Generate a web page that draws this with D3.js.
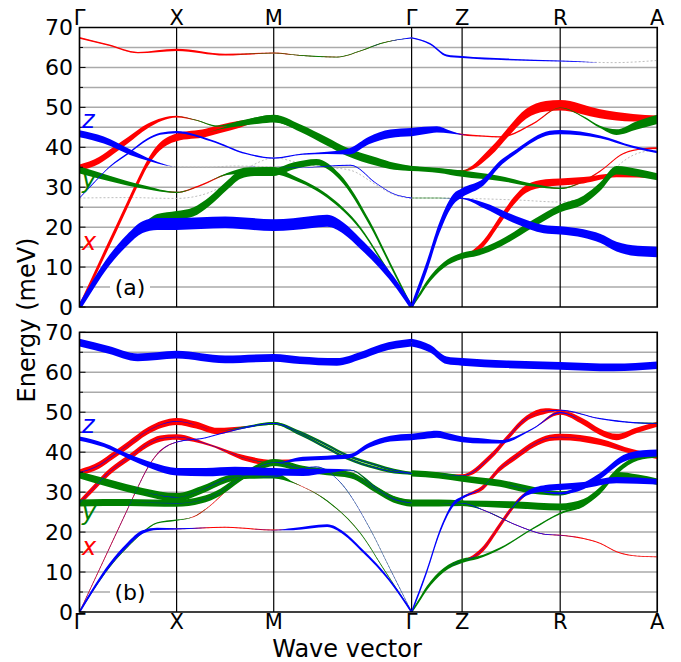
<!DOCTYPE html>
<html>
<head>
<meta charset="utf-8">
<script src="https://cdn.jsdelivr.net/npm/d3@7"></script>
<style>
  body { margin: 0; background: #fff; }
  text { font-family: "DejaVu Sans", sans-serif; }
</style>
</head>
<body>
<div id="chart"></div>
<script>
// high symmetry points along the path
var kTicks = [0, 1, 2, 3.42, 3.94, 4.95, 5.95];
var kLabels = ["Γ", "X", "M", "Γ", "Z", "R", "A"];
var eTicks = [0, 10, 20, 30, 40, 50, 60, 70];
var eGrid = [5, 10, 15, 20, 25, 30, 35, 40, 45, 50, 55, 60, 65];

// rows: k, energy (meV), weight x / y / z in panel (a), weight x / y / z in panel (b)
var band1 = [
  [0, 0, 0,0,.6, 0,.05,.25], [0.15, 6.0, 0,0,.7, 0,.08,.28], [0.31, 11.75, 0,0,.75, 0,.08,.3],
  [0.49, 16.75, 0,0,.8, 0,.08,.3], [0.65, 20.0, 0,0,.85, 0,.05,.25], [0.8, 20.8, 0,0,.85, 0,0,.15],
  [1, 20.8, 0,0,.85, .04,0,.1], [1.5, 21.2, 0,0,.85, .07,0,0], [2, 20.5, 0,0,.85, .07,0,.02],
  [2.2, 20.75, 0,0,.85, 0,0,.15], [2.55, 21.6, 0,0,.85, 0,0,.2], [2.72, 19.7, 0,0,.8, 0,0,.22],
  [2.89, 15.9, 0,0,.75, 0,0,.22], [3.06, 11.75, 0,0,.7, 0,.03,.22], [3.23, 6.75, 0,0,.6, 0,.05,.22],
  [3.42, 0, 0,0,.5, 0,.05,.25]
];
var band2 = [
  [0, 0, 0,.1,0, 0,.1,0], [0.31, 11.3, 0,.15,0, 0,.12,0], [0.49, 16.2, 0,.25,0, 0,.12,0],
  [0.65, 19.9, 0,.4,0, 0,.12,0], [0.8, 22.3, 0,.55,0, 0,.1,0], [1, 23.0, 0,.6,0, 0,.08,0],
  [1.17, 23.8, 0,.65,0, .05,0,0], [1.34, 26.5, 0,.65,0, .06,0,0], [1.52, 30.5, 0,.65,0, .06,0,0],
  [1.66, 33.2, 0,.6,0, .05,0,0], [1.8, 33.8, 0,.55,0, .03,.03,0], [2, 33.8, 0,.55,0, 0,.08,.04],
  [2.2, 35.3, 0,.5,0, 0,.04,.05], [2.44, 36.3, 0,.45,0, 0,.03,.05], [2.68, 32.6, 0,.4,0, 0,.02,.04],
  [2.99, 20.9, 0,.35,0, 0,.02,.04], [3.2, 10.7, 0,.3,0, 0,.02,.04], [3.42, 0, 0,.25,0, 0,.02,.04]
];
var band3 = [
  [0, 0, .45,0,0, .12,0,.04], [0.25, 13.0, .5,0,0, .12,0,.04], [0.5, 26.0, .5,0,0, .12,0,.04],
  [0.6, 31.2, .5,0,0, .12,0,.04], [0.7, 36.0, .5,0,0, .12,0,.04], [0.8, 39.5, .55,0,0, .1,0,.04],
  [0.9, 41.5, .55,0,0, .08,0,.05], [1, 42.5, .55,0,0, .05,0,.06], [1.3, 43.6, .6,0,0, 0,0,.06],
  [1.45, 44.6, .6,.05,0, 0,0,.06], [1.65, 45.8, .5,.3,0, 0,.05,.06], [1.85, 46.8, .2,.5,0, 0,.15,.05],
  [2, 47.2, .05,.55,0, 0,.2,.05], [2.27, 45.0, 0,.45,0, 0,.2,.04], [2.55, 41.75, 0,.4,0, 0,.2,.04],
  [2.75, 39.25, 0,.4,0, 0,.2,.04], [3.06, 36.75, 0,.4,0, 0,.2,.04], [3.24, 35.5, 0,.35,0, 0,.2,.04],
  [3.42, 34.7, 0,.35,0, 0,.2,.04]
];
var band4 = [
  [0, 34.9, .45,0,0, .45,0,.04], [0.2, 36.7, .5,0,0, .5,0,.04], [0.35, 39.2, .5,0,0, .5,0,.04],
  [0.5, 41.8, .45,0,0, .5,0,.04], [0.7, 45.3, .35,0,0, .5,0,.04], [0.85, 47.0, .2,0,0, .5,0,.04],
  [1, 47.7, .12,0,0, .5,0,.04], [1.2, 46.8, .05,.05,0, .5,0,0], [1.42, 45.3, 0,.1,0, .45,0,0],
  [1.7, 46.3, 0,.35,0, .1,.1,.04], [2, 47.2, 0,.5,0, 0,.2,.05], [2.27, 44.5, 0,.35,0, 0,.2,.04],
  [2.55, 41.0, 0,.35,0, 0,.2,.04], [2.75, 38.5, 0,.35,0, 0,.2,.04], [3.06, 36.0, 0,.35,0, 0,.2,.04],
  [3.24, 35.0, 0,.35,0, 0,.2,.04], [3.42, 34.7, 0,.35,0, 0,.2,.04]
];
var band5 = [
  [0, 43.4, 0,0,.5, 0,0,.3], [0.25, 41.8, 0,0,.5, 0,0,.3], [0.52, 38.8, 0,0,.4, 0,0,.35],
  [0.75, 36.6, 0,0,.15, 0,0,.45], [1, 35.1, 0,0,0, 0,0,.55], [1.3, 35.0, 0,0,0, 0,0,.6],
  [1.6, 35.3, 0,0,0, 0,0,.6], [2, 35.1, 0,0,0, 0,0,.55], [2.3, 34.9, 0,0,.03, 0,0,.5],
  [2.55, 35.3, 0,0,.05, 0,0,.3], [2.79, 35.5, 0,0,.06, 0,.05,.05], [3.06, 30.9, 0,0,.06, 0,.3,.04],
  [3.23, 28.4, 0,0,.06, 0,.4,.04], [3.42, 27.3, 0,0,.06, 0,.45,.04]
];
var band6 = [
  [0, 27.3, 0,0,.06, .4,0,.04], [0.14, 30.9, 0,0,.08, .45,0,.04], [0.31, 35.1, 0,0,.1, .45,0,.04],
  [0.52, 38.8, 0,0,.12, .45,0,.04], [0.7, 42.0, 0,0,.15, .45,0,.04], [0.83, 43.4, 0,0,.15, .45,0,.04],
  [1, 43.8, 0,0,.15, .4,0,.04], [1.35, 41.75, 0,0,.12, .15,0,.04], [1.72, 38.4, 0,0,.1, .4,0,.02],
  [2, 37.3, 0,0,.08, .45,.1,0], [2.3, 38.3, 0,0,.08, 0,0,.3], [2.55, 38.6, 0,0,.15, 0,0,.3],
  [2.78, 39.0, 0,0,.45, 0,0,.3], [2.98, 41.7, 0,0,.55, 0,0,.35], [3.2, 43.4, 0,0,.6, 0,0,.4],
  [3.42, 43.8, 0,0,.6, 0,0,.45]
];
var band7 = [
  [0, 27.3, 0,0,0, 0,.5,0], [0.5, 27.4, 0,0,0, 0,.5,0], [1, 27.2, 0,0,0, 0,.5,.03],
  [1.25, 28.0, 0,0,0, 0,.5,.03], [1.45, 30.0, 0,0,0, 0,.5,.03], [1.65, 33.5, 0,0,0, 0,.5,.03],
  [1.85, 36.3, 0,0,0, 0,.5,.03], [2, 37.4, 0,0,0, 0,.5,.03], [2.3, 35.8, 0,0,0, 0,.45,.03],
  [2.55, 35.0, 0,0,0, 0,.45,.03], [2.79, 34.25, 0,0,0, 0,.45,.03], [3.06, 30.5, 0,0,0, 0,.45,.03],
  [3.23, 28.2, 0,0,0, 0,.45,.03], [3.42, 27.2, 0,0,0, 0,.5,0]
];
var band8 = [
  [0, 34.3, 0,.5,0, 0,.5,0], [0.31, 32.2, 0,.4,0, 0,.55,0], [0.65, 30.1, 0,.25,0, 0,.55,0],
  [1, 28.7, .08,.08,0, 0,.6,.04], [1.25, 30.5, .1,0,0, 0,.55,.03], [1.52, 33.3, .06,.15,0, 0,.5,.03],
  [1.75, 34.2, 0,.45,0, 0,.5,.03], [2, 34.2, 0,.5,0, 0,.45,.03], [2.2, 32.4, 0,.3,0, .03,.08,0],
  [2.55, 27.8, 0,.25,0, .03,.08,0], [2.89, 19.8, 0,.22,0, .03,.08,0], [3.15, 10.1, 0,.2,0, .03,.08,0],
  [3.42, 0, 0,.15,0, .03,.08,0]
];
var band9 = [
  [0, 67.4, .12,0,0, 0,0,.55], [0.3, 65.6, .1,0,0, 0,0,.55], [0.6, 63.7, .1,0,0, 0,0,.55],
  [1, 64.4, .15,0,0, 0,0,.55], [1.5, 63.2, .12,0,0, 0,0,.55], [2, 63.6, .08,.04,0, 0,0,.55],
  [2.27, 63.0, .05,.06,0, 0,0,.55], [2.65, 62.6, .04,.06,0, 0,0,.55], [2.9, 64.2, .04,.06,0, 0,0,.55],
  [3.1, 66.0, .04,.06,0, 0,0,.55], [3.42, 67.4, 0,0,.1, 0,0,.55]
];
var band10 = [
  [3.42, 0, 0,0,.55, 0,0,.3], [3.575, 10.1, 0,0,.75, 0,0,.3], [3.71, 20.1, 0,0,.8, 0,0,.3],
  [3.85, 27.0, 0,0,.75, 0,0,.3], [3.94, 28.6, 0,0,.65, .1,0,.2], [4.16, 31.3, 0,0,.5, .35,0,.04],
  [4.33, 35.9, 0,0,.4, .4,0,.04], [4.5, 39.0, 0,0,.3, .45,0,.04], [4.68, 42.0, 0,0,.3, .45,0,.04],
  [4.84, 43.6, 0,0,.3, .45,0,.04], [4.95, 43.8, 0,0,.3, .45,0,.04], [5.36, 42.6, 0,0,.2, .45,0,0],
  [5.7, 40.1, 0,0,.15, .35,0,0], [5.95, 38.8, 0,0,.15, .3,0,0]
];
var band11 = [
  [3.42, 0, 0,.2,0, 0,.2,0], [3.5, 3.0, 0,.3,0, 0,.25,0], [3.575, 5.9, 0,.35,0, 0,.3,0],
  [3.75, 10.5, 0,.4,0, 0,.3,0], [3.94, 12.8, 0,.45,0, 0,.3,0], [4.1, 13.6, 0,.45,0, 0,.2,0],
  [4.33, 15.9, 0,.5,0, 0,.15,0], [4.67, 20.9, 0,.55,0, 0,.12,0], [4.95, 24.7, 0,.55,0, 0,.12,0],
  [5.19, 26.8, 0,.6,0, 0,.25,0], [5.36, 30.1, 0,.6,0, 0,.35,0], [5.53, 34.25, 0,.6,0, 0,.45,0],
  [5.75, 33.6, 0,.55,0, 0,.45,0], [5.95, 32.6, 0,.5,0, 0,.45,0]
];
var band12 = [
  [3.42, 0, 0,0,0, 0,0,0], [3.575, 5.8, 0,0,0, 0,0,0], [3.75, 10.4, 0,0,0, 0,0,0],
  [3.94, 12.8, .1,0,0, .1,0,0], [4.05, 13.7, .3,0,0, .3,0,.03], [4.16, 15.9, .45,0,0, .4,0,.04],
  [4.33, 21.75, .55,0,0, .4,0,.04], [4.47, 26.5, .55,0,0, .35,0,.1], [4.6, 29.6, .55,0,0, .2,0,.3],
  [4.8, 31.0, .55,0,0, 0,0,.45], [4.95, 31.3, .5,0,0, 0,0,.45], [5.19, 31.75, .45,0,0, 0,0,.45],
  [5.53, 33.0, .3,0,0, 0,0,.45], [5.95, 32.6, .2,0,0, 0,0,.4]
];
var band13 = [
  [3.42, 27.3, 0,.05,0, 0,.5,0], [3.7, 27.3, 0,.05,0, 0,.5,0], [3.94, 27.2, 0,0,.1, 0,.4,.03],
  [4.16, 25.5, 0,0,.4, .05,0,.05], [4.5, 21.75, 0,0,.55, .05,0,.05], [4.78, 19.5, 0,0,.6, .05,0,.05],
  [4.95, 19.2, 0,0,.6, .06,0,.04], [5.19, 18.4, 0,0,.6, .08,0,0], [5.36, 17.2, 0,0,.65, .08,0,0],
  [5.53, 15.1, 0,0,.7, .07,0,0], [5.75, 14.0, 0,0,.75, .06,0,0], [5.95, 13.8, 0,0,.75, .05,0,0]
];
var band14 = [
  [3.42, 27.3, 0,0,0, 0,.3,0], [3.7, 27.25, 0,0,0, 0,.3,0], [3.94, 27.2, 0,0,0, 0,.4,0],
  [4.5, 26.8, 0,0,0, 0,.5,0], [4.95, 26.3, 0,0,0, 0,.5,0], [5.19, 27.5, 0,0,0, 0,.45,0],
  [5.36, 30.5, 0,0,0, 0,.45,0], [5.55, 35.5, 0,0,0, 0,.4,0], [5.75, 38.5, 0,0,0, 0,.35,0],
  [5.95, 39.3, 0,0,0, 0,.35,0]
];
var band15 = [
  [3.42, 34.7, 0,.35,0, 0,.45,0], [3.7, 34.2, 0,.35,0, 0,.45,0], [3.94, 33.4, 0,.45,0, 0,.45,0],
  [4.33, 32.2, 0,.35,0, 0,.5,0], [4.67, 30.5, 0,.2,0, 0,.5,0], [4.95, 29.7, .05,.1,0, 0,.3,.15],
  [5.19, 31.5, .1,0,0, 0,0,.45], [5.36, 34.0, .1,0,0, 0,0,.45], [5.6, 38.4, .1,0,0, 0,0,.5],
  [5.8, 39.6, .1,0,0, 0,0,.5], [5.95, 39.8, .12,0,0, 0,0,.5]
];
var band16 = [
  [3.42, 34.7, 0,.3,0, 0,.3,0], [3.7, 34.4, 0,.15,0, 0,.25,0], [3.94, 34.1, .1,.05,0, .2,.05,.03],
  [4.05, 35.0, .3,0,0, .35,0,.04], [4.16, 37.2, .5,0,0, .4,0,.04], [4.28, 40.0, .6,0,0, .4,0,.04],
  [4.4, 43.4, .65,0,0, .4,0,.04], [4.6, 48.4, .7,0,0, .4,0,.04], [4.8, 50.3, .75,0,0, .4,0,.05],
  [4.95, 50.5, .75,0,0, .1,0,.08], [5.36, 48.4, .65,0,0, 0,0,.08], [5.7, 47.4, .55,0,0, 0,.05,.08],
  [5.95, 47.2, .45,0,0, 0,.1,.06]
];
var band17 = [
  [3.42, 43.8, 0,0,.6, 0,0,.45], [3.55, 44.2, 0,0,.55, 0,0,.5], [3.68, 44.5, 0,0,.45, 0,0,.5],
  [3.82, 43.8, 0,0,.2, 0,0,.45], [3.94, 43.2, .1,0,.05, 0,0,.4], [4.16, 42.8, .1,0,0, 0,0,.35],
  [4.33, 42.6, .1,0,0, 0,0,.25], [4.67, 45.9, .1,0,0, 0,0,.1], [4.95, 49.9, .1,.05,0, .3,0,.08],
  [5.19, 47.6, 0,.1,0, .45,0,0], [5.36, 45.1, 0,.15,0, .45,0,0], [5.53, 43.8, 0,.4,0, .45,0,0],
  [5.74, 45.5, 0,.6,0, .4,0,0], [5.95, 47.0, 0,.65,0, .35,0,0]
];
var band18 = [
  [3.42, 67.4, 0,0,.1, 0,0,.55], [3.61, 65.9, 0,0,.12, 0,0,.55], [3.78, 63.0, 0,0,.15, 0,0,.55],
  [3.94, 62.6, 0,0,.15, 0,0,.55], [4.4, 62.0, 0,0,.12, 0,0,.55], [4.95, 61.6, 0,0,.08, 0,0,.55],
  [5.5, 61.2, 0,0,0, 0,0,.55], [5.95, 61.75, 0,0,0, 0,0,.55]
];
var bands = [band1, band2, band3, band4, band5, band6, band7, band8, band9,
             band10, band11, band12, band13, band14, band15, band16, band17, band18];

var width = 681, height = 662;
var svg = d3.select("#chart").append("svg")
    .attr("width", width)
    .attr("height", height);
svg.append("rect").attr("width", width).attr("height", height).attr("fill", "#fff");

var x = d3.scaleLinear().domain([0, 5.95]).range([79.5, 657.3]);
var w = d3.scaleLinear().domain([0, 1]).range([0, 14]);
var colors = ["#ff0000", "#008000", "#0000ff"];

var panels = [
    {id: "a", top: 27.5, bottom: 307, col: 2, label: "(a)", xyz: [250, 188, 128]},
    {id: "b", top: 332.3, bottom: 612, col: 5, label: "(b)", xyz: [555, 520, 433]}
];

panels.forEach(function(p) {
    var y = d3.scaleLinear().domain([0, 70]).range([p.bottom, p.top]);
    var g = svg.append("g");

    g.append("clipPath").attr("id", "clip-" + p.id)
        .append("rect")
        .attr("x", x(0)).attr("y", p.top)
        .attr("width", x(5.95) - x(0)).attr("height", p.bottom - p.top);

    g.selectAll(".grid").data(eGrid).enter().append("line")
        .attr("x1", x(0)).attr("x2", x(5.95))
        .attr("y1", function(d) { return y(d); })
        .attr("y2", function(d) { return y(d); })
        .attr("stroke", "#aaaaaa").attr("stroke-width", 1.5);

    // white box behind the panel tag
    g.append("rect")
        .attr("x", 110).attr("y", y(5) - 12)
        .attr("width", 40).attr("height", 24)
        .attr("fill", "#fff");
    g.append("text")
        .attr("x", 130).attr("y", y(5) + 8)
        .attr("text-anchor", "middle")
        .style("font-size", "22px")
        .text(p.label);

    g.selectAll(".vline").data(kTicks).enter().append("line")
        .attr("x1", function(d) { return x(d); })
        .attr("x2", function(d) { return x(d); })
        .attr("y1", p.top).attr("y2", p.bottom)
        .attr("stroke", "#000").attr("stroke-width", 1.2);

    var bandG = g.append("g").attr("clip-path", "url(#clip-" + p.id + ")");

    var line = d3.line()
        .x(function(d) { return x(d[0]); })
        .y(function(d) { return y(d[1]); })
        .curve(d3.curveMonotoneX);

    bandG.selectAll(".base").data(bands).enter().append("path")
        .attr("d", line)
        .attr("fill", "none")
        .attr("stroke", "#b5b5b5")
        .attr("stroke-width", 0.9)
        .attr("stroke-dasharray", "2,2");

    [0, 1, 2].forEach(function(c) {
        var col = p.col + c;
        var area = d3.area()
            .x(function(d) { return x(d[0]); })
            .y0(function(d) { return y(d[1]) - w(d[col]) / 2; })
            .y1(function(d) { return y(d[1]) + w(d[col]) / 2; })
            .curve(d3.curveMonotoneX);
        bandG.selectAll(".fat" + c).data(bands).enter().append("path")
            .attr("d", area)
            .attr("fill", colors[c]);
    });

    // minor / major ticks pointing inwards
    g.selectAll(".tick").data(eGrid.concat([0, 70])).enter().append("line")
        .attr("x1", x(0)).attr("x2", function(d) { return x(0) + (d % 10 === 0 ? 6 : 3.5); })
        .attr("y1", function(d) { return y(d); })
        .attr("y2", function(d) { return y(d); })
        .attr("stroke", "#000").attr("stroke-width", 1);

    g.append("rect")
        .attr("x", x(0)).attr("y", p.top)
        .attr("width", x(5.95) - x(0)).attr("height", p.bottom - p.top)
        .attr("fill", "none").attr("stroke", "#000").attr("stroke-width", 1.5);

    g.selectAll(".ylab").data(eTicks).enter().append("text")
        .attr("x", 73).attr("y", function(d) { return y(d); })
        .attr("dy", "0.36em")
        .attr("text-anchor", "end")
        .style("font-size", "22px")
        .text(function(d) { return d; });

    ["x", "y", "z"].forEach(function(t, i) {
        g.append("text")
            .attr("x", 82).attr("y", p.xyz[i])
            .style("font-size", "24px")
            .style("font-style", "italic")
            .attr("fill", colors[i])
            .text(t);
    });
});

svg.selectAll(".ktop").data(kTicks).enter().append("text")
    .attr("x", function(d) { return x(d); })
    .attr("y", 25)
    .attr("text-anchor", "middle")
    .style("font-size", "21px")
    .text(function(d, i) { return kLabels[i]; });

svg.selectAll(".kbot").data(kTicks).enter().append("text")
    .attr("x", function(d) { return x(d); })
    .attr("y", 629)
    .attr("text-anchor", "middle")
    .style("font-size", "21px")
    .text(function(d, i) { return kLabels[i]; });

svg.append("text")
    .attr("x", 347).attr("y", 657)
    .attr("text-anchor", "middle")
    .style("font-size", "24px")
    .text("Wave vector");

svg.append("text")
    .attr("transform", "translate(35,320) rotate(-90)")
    .attr("text-anchor", "middle")
    .style("font-size", "24px")
    .text("Energy (meV)");
</script>
</body>
</html>
